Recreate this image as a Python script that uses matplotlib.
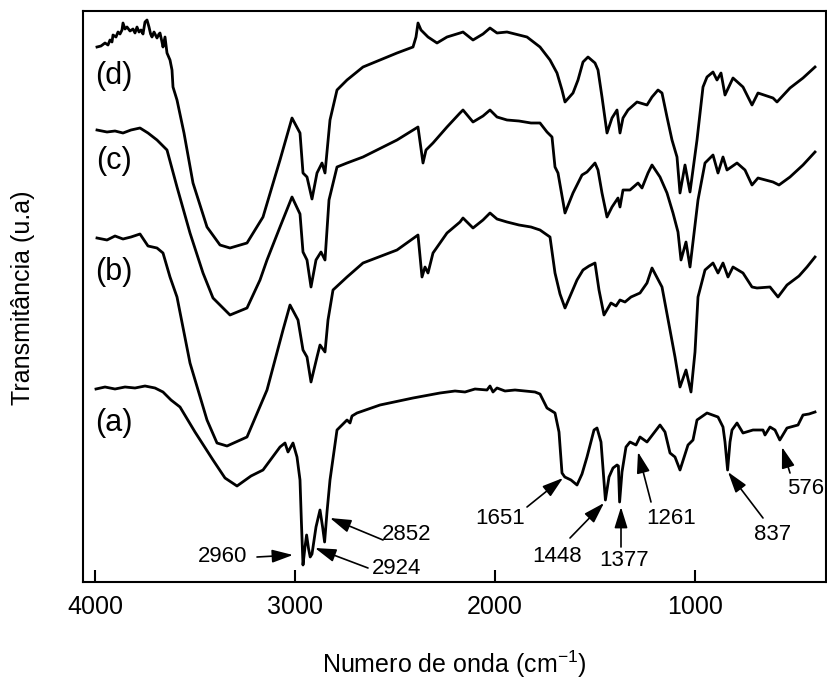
import matplotlib
matplotlib.use("Agg")
import matplotlib.pyplot as plt

plt.rcParams['font.family'] = ['Liberation Sans', 'DejaVu Sans']
plt.rcParams['mathtext.fontset'] = 'custom'
plt.rcParams['mathtext.rm'] = 'Liberation Sans'
plt.rcParams['mathtext.it'] = 'Liberation Sans'

# ---- data (wavenumber cm-1, transmittance arbitrary units, offset traces) ----
wn_a = [3995, 3950, 3900, 3850, 3800, 3750, 3700, 3660, 3620, 3575, 3500, 3410, 3350, 3290,
        3220, 3160, 3075, 3050, 3035, 3010, 2990, 2975, 2968, 2960, 2950, 2942, 2932, 2924,
        2915, 2895, 2875, 2862, 2852, 2840, 2825, 2790, 2740, 2725, 2715, 2690, 2575, 2410,
        2275, 2200, 2150, 2100, 2040, 2025, 2010, 1990, 1950, 1900, 1850, 1800, 1775, 1740,
        1700, 1680, 1665, 1651, 1620, 1590, 1565, 1540, 1505, 1490, 1470, 1448, 1430, 1410,
        1390, 1383, 1377, 1365, 1345, 1325, 1295, 1275, 1240, 1175, 1150, 1125, 1100, 1075,
        1035, 1010, 990, 940, 885, 860, 850, 837, 825, 815, 790, 760, 710, 660, 650, 625,
        600, 576, 540, 485, 460, 430, 400]
t_a = [193, 195, 193, 195, 194, 196, 194, 190, 182, 175, 150, 122, 104, 96,
       106, 112, 135, 139, 130, 139, 125, 102, 60, 17, 35, 47, 33, 25,
       28, 55, 72, 55, 40, 70, 102, 152, 162, 159, 166, 169, 177, 184,
       189, 191, 190, 193, 192, 196, 190, 194, 191, 192, 191, 190, 188, 174,
       169, 150, 109, 105, 102, 97, 108, 125, 152, 154, 140, 82, 105, 114,
       117, 116, 80, 110, 135, 140, 137, 145, 140, 157, 150, 129, 125, 112,
       137, 142, 162, 169, 165, 155, 140, 112, 140, 152, 159, 149, 152, 152, 147, 155,
       152, 142, 154, 157, 167, 168, 170]

wn_b = [3990, 3940, 3900, 3860, 3820, 3775, 3735, 3690, 3660, 3625, 3590, 3525, 3440, 3390,
        3340, 3240, 3140, 3060, 3025, 2985, 2960, 2940, 2920, 2890, 2875, 2850, 2835, 2810,
        2740, 2660, 2490, 2385, 2365, 2350, 2335, 2310, 2240, 2175, 2160, 2110, 2060, 2025,
        1990, 1940, 1880, 1820, 1775, 1725, 1700, 1675, 1650, 1620, 1590, 1560, 1530, 1500,
        1480, 1455, 1420, 1395, 1375, 1350, 1320, 1275, 1240, 1215, 1165, 1125, 1100, 1075,
        1045, 1020, 1000, 985, 950, 910, 885, 860, 835, 810, 760, 715, 690, 625, 585, 540,
        480, 440, 400]
t_b = [344, 342, 346, 343, 345, 348, 336, 334, 329, 305, 285, 219, 162, 139,
       136, 145, 192, 252, 277, 262, 232, 225, 200, 225, 237, 230, 262, 292,
       305, 319, 332, 347, 305, 315, 309, 329, 349, 360, 364, 354, 362, 369,
       363, 360, 357, 355, 352, 345, 309, 288, 274, 288, 302, 312, 316, 319,
       292, 267, 279, 276, 282, 280, 285, 289, 299, 314, 295, 252, 225, 195,
       212, 190, 230, 285, 312, 319, 309, 319, 305, 315, 309, 295, 294, 295, 285, 297,
       306, 315, 325]

wn_c = [3990, 3940, 3900, 3860, 3820, 3775, 3735, 3690, 3640, 3590, 3525, 3460, 3410, 3325,
        3240, 3175, 3140, 3075, 3015, 2975, 2960, 2940, 2920, 2895, 2870, 2850, 2830, 2790,
        2740, 2660, 2490, 2385, 2360, 2345, 2310, 2240, 2175, 2160, 2110, 2060, 2025, 1990,
        1940, 1880, 1820, 1775, 1740, 1715, 1700, 1685, 1650, 1610, 1565, 1540, 1500, 1485,
        1465, 1440, 1415, 1385, 1375, 1360, 1325, 1285, 1265, 1235, 1215, 1175, 1140, 1110,
        1085, 1070, 1045, 1025, 985, 950, 910, 885, 860, 840, 790, 750, 715, 685, 610, 580,
        525, 460, 400]
t_c = [452, 450, 451, 449, 452, 454, 449, 442, 432, 395, 349, 309, 284, 267,
       274, 302, 322, 355, 385, 368, 330, 322, 295, 322, 330, 322, 382, 415,
       419, 425, 442, 455, 419, 432, 439, 455, 469, 472, 460, 466, 472, 465,
       462, 461, 459, 459, 450, 445, 415, 409, 369, 389, 407, 410, 419, 412,
       389, 365, 375, 384, 375, 392, 392, 399, 394, 409, 417, 405, 389, 369,
       350, 322, 340, 315, 382, 419, 427, 409, 425, 412, 419, 412, 397, 404, 400, 397,
       405, 417, 430]

wn_d = [3990, 3970, 3950, 3935, 3925, 3915, 3910, 3895, 3885, 3875, 3865, 3860, 3850, 3840,
        3825, 3810, 3800, 3790, 3780, 3770, 3760, 3750, 3740, 3730, 3722, 3715, 3705, 3690,
        3680, 3675, 3665, 3660, 3650, 3640, 3625, 3615, 3610, 3590, 3555, 3510, 3440, 3375,
        3325, 3240, 3160, 3075, 3015, 2975, 2960, 2940, 2915, 2890, 2865, 2850, 2825, 2790,
        2740, 2660, 2490, 2410, 2395, 2385, 2370, 2360, 2335, 2290, 2240, 2175, 2160, 2110,
        2060, 2025, 1990, 1940, 1840, 1775, 1725, 1690, 1665, 1650, 1610, 1585, 1560, 1535,
        1500, 1485, 1465, 1440, 1415, 1390, 1375, 1360, 1335, 1290, 1240, 1215, 1185, 1165,
        1140, 1115, 1090, 1075, 1050, 1025, 990, 960, 940, 910, 890, 870, 850, 810, 760,
        715, 685, 610, 590, 525, 460, 400]
t_d = [535, 536, 539, 537, 542, 540, 547, 545, 550, 548, 552, 559, 553, 555,
       551, 553, 549, 555, 550, 552, 548, 560, 562, 555, 548, 545, 550, 544,
       548, 549, 540, 535, 545, 529, 522, 512, 495, 482, 449, 399, 355, 337,
       334, 339, 365, 422, 464, 449, 409, 405, 383, 409, 419, 409, 462, 492,
       502, 515, 529, 535, 545, 559, 552, 550, 545, 539, 545, 549, 550, 542,
       548, 554, 549, 550, 545, 535, 522, 509, 492, 480, 489, 502, 520, 525,
       519, 512, 485, 449, 464, 472, 449, 464, 472, 480, 477, 485, 492, 489,
       465, 442, 425, 389, 417, 390, 442, 495, 505, 510, 502, 509, 487, 504, 495,
       477, 489, 484, 480, 494, 504, 515]

trace_names = ['(a)', '(b)', '(c)', '(d)']
label_wn = [3905, 3905, 3905, 3905]
label_t = [159, 310, 421, 506]

peak_labels = ['2960', '2924', '2852', '1651', '1448', '1377', '1261', '837', '576']
peak_text_wn = [3360, 2490, 2440, 1975, 1690, 1355, 1120, 610, 445]
peak_text_t = [25, 13, 47, 63, 25, 21, 63, 48, 93]
arrow_tail_wn = [3190, 2635, 2560, 1840, 1625, 1370, 1220, 660, 525]
arrow_tail_t = [25, 14, 42, 75, 44, 35, 80, 64, 109]
arrow_head_wn = [3010, 2900, 2825, 1660, 1455, 1370, 1285, 835, 565]
arrow_head_t = [27, 34, 64, 104, 79, 75, 130, 110, 135]

# ---- figure ----
fig = plt.figure(figsize=(8.27, 6.9), dpi=100)
ax = fig.add_axes([83 / 827, 1 - 582 / 690, (826 - 83) / 827, (582 - 11) / 690])

for wn, t in [(wn_a, t_a), (wn_b, t_b), (wn_c, t_c), (wn_d, t_d)]:
    ax.plot(wn, t, color='black', lw=2.0, solid_joinstyle='round')

for name, x, y in zip(trace_names, label_wn, label_t):
    ax.text(x, y, name, fontsize=22, ha='center', va='center')

for lab, tx, ty, ax0, ay0, hx, hy in zip(peak_labels, peak_text_wn, peak_text_t,
                                         arrow_tail_wn, arrow_tail_t,
                                         arrow_head_wn, arrow_head_t):
    ax.annotate('', xy=(hx, hy), xytext=(ax0, ay0),
                arrowprops=dict(arrowstyle='-|>,head_length=0.8,head_width=0.25',
                                color='black', lw=1.2, mutation_scale=16,
                                shrinkA=0, shrinkB=0))
    ax.text(tx, ty, lab, fontsize=16, ha='center', va='center')

ax.set_xlim(4060, 345)
ax.set_ylim(0, 571)
ax.set_xticks([4000, 3000, 2000, 1000])
ax.set_xticklabels(['4000', '3000', '2000', '1000'])
ax.set_yticks([])
ax.tick_params(axis='x', direction='in', length=9, width=1.5, labelsize=18, pad=9)
for s in ax.spines.values():
    s.set_linewidth(1.5)

ax.set_xlabel('Numero de onda (cm$^{-1}$)', fontsize=18, labelpad=22)
ax.set_ylabel('Transmitância (u.a)', fontsize=18)
ax.yaxis.set_label_coords(-0.065, 0.497)

fig.savefig('out.png', dpi=100)
